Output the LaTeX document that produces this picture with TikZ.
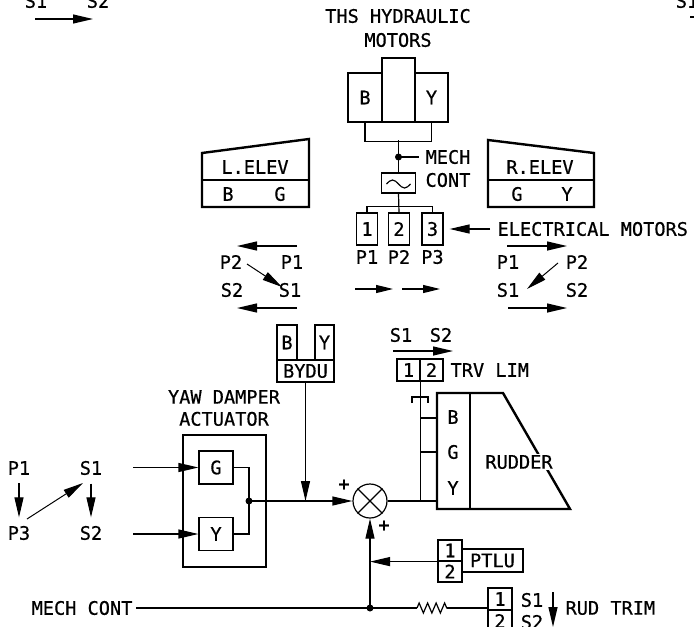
\documentclass[tikz,border=0pt]{standalone}
\usepackage{fontspec}
\setmainfont{DejaVu Sans Mono}[FakeBold=0.6]
\usetikzlibrary{arrows.meta, decorations.pathmorphing}

\tikzset{
  heavy/.style={line width=2.4pt},
  arr/.style={-{Triangle[length=20pt,width=9pt]}},
  sarr/.style={-{Triangle[length=17pt,width=8pt]}},
  cell/.style={draw, inner sep=0pt},
}

\begin{document}
\begin{tikzpicture}[x=1pt, y=-1pt, line width=1.2pt,
    every node/.style={font=\fontsize{18.6}{23}\selectfont, inner sep=0pt}]
            \useasboundingbox (0,0) rectangle (694,627);
            % edge of sheet
            \node (tS1) at (36,1) {S1};
            \node (tS2) at (98,1) {S2};
            \draw[arr] (35,19) -- (93,19);
            \node (rS1) at (687,1) {S1};
            \draw (690,17) -- (694,17);
            % THS motors
            \node[align=center, font=\fontsize{18.6}{24}\selectfont] (thstxt) at (398,28) {THS HYDRAULIC\\MOTORS};
            \node[cell, heavy, minimum width=34pt, minimum height=49pt] (thsB) at (365,97.5) {B};
            \node[cell, heavy, minimum width=33pt, minimum height=64pt] (thsC) at (398.5,90) {};
            \node[cell, heavy, minimum width=33pt, minimum height=49pt] (thsY) at (431.5,97.5) {Y};
            \draw (thsB.south) -- ++(0,18) -| (thsY.south);
            \coordinate (thsbar) at (398.5,140);
            \coordinate (mcdot) at (398.5,157);
            \node[cell, minimum width=34pt, minimum height=20pt] (filt) at (398.5,183) {};
            \draw (thsbar) -- (filt.north);
            \fill (mcdot) circle[radius=3.5pt];
            \draw (mcdot) -- ++(20,0);
            \node[align=left, anchor=west] (mechcont) at (425,168.5) {MECH\\CONT};
            \draw (filt.center) ++(-12,1) sin ++(6,-4) cos ++(6,4) sin ++(6,4) cos ++(6,-4);
            \foreach \i/\x in {1/367,2/399,3/432.5}{
                \node[cell, minimum width=21pt, minimum height=32pt] (em\i) at (\x,229) {\i};
                \node (emP\i) at (\x,257) {P\i};
            }
            \draw (em1.north) -- ++(0,-6) -| (em3.north);
            \draw (filt.south) -- (em2.north);
            \node[anchor=west] (elmot) at (497,229) {ELECTRICAL MOTORS};
            \draw[arr, shorten <=7pt, shorten >=6pt] (elmot.west) -- (em3.east);
            \draw[sarr] (355,289) -- (393,289);
            \draw[sarr] (402,289) -- (440,289);
            % elevators
            \draw[heavy] (202,153) -- (309,139) -- (309,207) -- (202,207) -- cycle;
            \draw (202,180) -- (309,180);
            \node (lelev) at (255,167) {L.ELEV};
            \node (lB) at (228,194) {B};
            \node (lG) at (280,194) {G};
            \draw[heavy] (488,140) -- (594,153) -- (594,207) -- (488,207) -- cycle;
            \draw (488,180) -- (594,180);
            \node (relev) at (540,167) {R.ELEV};
            \node (rG) at (517,194) {G};
            \node (rY) at (567,194) {Y};
            % elevator motion
            \draw[arr] (297,246) -- (237,246);
            \node (lP2) at (231,262) {P2};
            \node (lP1) at (292,262) {P1};
            \node (lS2) at (232,290) {S2};
            \node (lS1) at (290,290) {S1};
            \draw[arr, line width=1pt] (247,264) -- (282,287);
            \draw[arr] (297,308) -- (237,308);
            \draw[arr] (507,246) -- (567,246);
            \node (rP1) at (508,262) {P1};
            \node (rP2) at (577,262) {P2};
            \node (rS1) at (508,290) {S1};
            \node (rS2) at (577,290) {S2};
            \draw[arr, line width=1pt] (558,263) -- (527,289);
            \draw[arr] (508,308) -- (567,308);
            % BYDU
            \node[cell, minimum width=20pt, minimum height=35pt] (bydB) at (287,342.5) {B};
            \node[cell, minimum width=19pt, minimum height=35pt] (bydY) at (324.5,342.5) {Y};
            \node[cell, minimum width=57pt, minimum height=22pt] (bydu) at (305.5,371) {BYDU};
            % yaw damper
            \node[align=center, font=\fontsize{18.6}{22}\selectfont] (ydtxt) at (224,408) {YAW DAMPER\\ACTUATOR};
            \node[cell, minimum width=83pt, minimum height=132pt] (ydbox) at (224.5,501) {};
            \node[cell, minimum width=34pt, minimum height=33pt] (ydG) at (216,467.5) {G};
            \node[cell, minimum width=34pt, minimum height=33pt] (ydY) at (216,534) {Y};
            \coordinate (ydin1) at (133,467.5);
            \coordinate (ydin2) at (133,534);
            \draw[arr] (ydin1) -- (ydG.west);
            \draw[arr] (ydin2) -- (ydY.west);
            \coordinate (ydsum) at (249,501);
            \draw (ydG.east) -| (ydsum) |- (ydY.east);
            \fill (ydsum) circle[radius=3.5pt];
            \node (yP1) at (19,468) {P1};
            \node (yS1) at (91,468) {S1};
            \node (yP3) at (19,533) {P3};
            \node (yS2) at (91,533) {S2};
            \draw[arr, shorten <=8pt, shorten >=8pt] (yP1) -- (yP3);
            \draw[arr, shorten <=8pt, shorten >=8pt] (yS1) -- (yS2);
            \draw[arr, line width=1pt] (27,519) -- (83,483);
            % summing point
            \node[draw, circle, minimum size=34pt] (sumj) at (370,501) {};
            \draw (sumj.north west) -- (sumj.south east);
            \draw (sumj.north east) -- (sumj.south west);
            \draw[arr] (ydsum) -- (sumj.west);
            \draw[arr] (bydu.south) -- (bydu.south |- sumj.west);
            \node (plus1) at (344,485) {+};
            \node (plus2) at (384,526) {+};
            % rudder
            \coordinate (rudTL) at (437,393);
            \draw[heavy] (rudTL) -- (503,393) -- (570,509) -- (437,509) -- cycle;
            \draw (470,393) -- (470,509);
            \node[fill=white, inner sep=1pt] (rudtxt) at (519,462) {RUDDER};
            \node (rudB) at (453,417) {B};
            \node (rudG) at (453,452) {G};
            \node (rudY) at (453,488) {Y};
            % travel limiter
            \node (trvS1) at (401,335) {S1};
            \node (trvS2) at (441,335) {S2};
            \draw[arr] (393,351) -- (453,351);
            \node[cell, minimum width=23pt, minimum height=22pt] (trv1) at (408.5,370) {1};
            \node[cell, minimum width=23pt, minimum height=22pt] (trv2) at (431.5,370) {2};
            \node[anchor=west] (trvtxt) at (450,370) {TRV LIM};
            \draw (trv1.south east) -- (trv1.south east |- sumj.east);
            \draw (412,403) -- (412,397) -- (428,397) -- (428,403);
            \foreach \y in {418,452}{
                \draw (420,\y) -- (437,\y);
            }
            \draw (sumj.east) -- (sumj.east -| rudTL);
            % PTLU
            \node[cell, minimum width=24pt, minimum height=21pt] (ptlu1) at (450,550.5) {1};
            \node[cell, minimum width=24pt, minimum height=21pt] (ptlu2) at (450,571.5) {2};
            \node[cell, minimum width=61pt, minimum height=23pt] (ptlu) at (492.5,560.5) {PTLU};
            \coordinate (mcdot2) at (370,608);
            \draw[arr] (ptlu1.south west) -- (sumj.south |- ptlu1.south west);
            \draw[arr] (mcdot2) -- (sumj.south);
            % mech cont and trim
            \node[anchor=east] (mcbot) at (133,608) {MECH CONT};
            \draw[shorten <=3pt] (mcbot.east) -- (mcdot2);
            \fill (mcdot2) circle[radius=3.5pt];
            \node[cell, minimum width=24pt, minimum height=22pt] (rt1) at (500,599) {1};
            \node[cell, minimum width=24pt, minimum height=22pt] (rt2) at (500,621) {2};
            \draw (mcdot2) -- (417,608);
            \draw[decorate, decoration={zigzag, segment length=8.5pt, amplitude=5pt}] (417,608) -- (447,608);
            \draw (447,608) -- (mcdot2 -| rt1.west);
            \node (rtS1) at (532,600) {S1};
            \node (rtS2) at (532,622) {S2};
            \draw[arr] (553,592) -- (553,627);
            \node[anchor=west] (rudtrim) at (565,608) {RUD TRIM};
        \end{tikzpicture}
\end{document}
